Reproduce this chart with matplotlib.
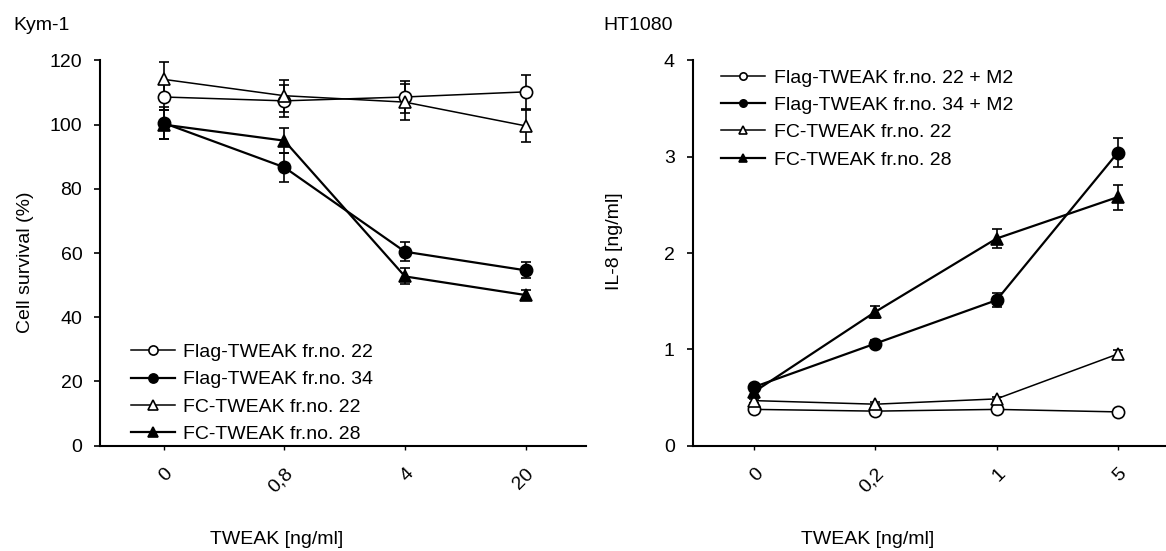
import numpy as np
import matplotlib
matplotlib.use("Agg")
import matplotlib.pyplot as plt

plt.rcParams['font.family'] = ['Liberation Sans', 'DejaVu Sans']

# Kym-1 cell survival
kym_doses = ["0", "0,8", "4", "20"]
kym_labels = ["Flag-TWEAK fr.no. 22", "Flag-TWEAK fr.no. 34",
              "FC-TWEAK fr.no. 22", "FC-TWEAK fr.no. 28"]
kym_flag22 = [108.6, 107.4, 108.6, 110.2]
kym_flag22_err = [4.0, 5.0, 5.0, 5.4]
kym_flag34 = [100.5, 86.7, 60.4, 54.6]
kym_flag34_err = [5.0, 4.5, 3.0, 2.5]
kym_fc22 = [114.1, 109.0, 107.0, 99.6]
kym_fc22_err = [5.4, 5.0, 5.5, 5.0]
kym_fc28 = [100.0, 95.0, 52.7, 46.9]
kym_fc28_err = [4.5, 4.0, 2.5, 1.5]

# HT1080 IL-8 release
ht_doses = ["0", "0,2", "1", "5"]
ht_labels = ["Flag-TWEAK fr.no. 22 + M2", "Flag-TWEAK fr.no. 34 + M2",
             "FC-TWEAK fr.no. 22", "FC-TWEAK fr.no. 28"]
ht_flag22 = [0.376, 0.358, 0.376, 0.35]
ht_flag22_err = [0.02, 0.02, 0.02, 0.02]
ht_flag34 = [0.61, 1.06, 1.51, 3.04]
ht_flag34_err = [0.03, 0.04, 0.07, 0.15]
ht_fc22 = [0.467, 0.43, 0.485, 0.95]
ht_fc22_err = [0.02, 0.02, 0.02, 0.04]
ht_fc28 = [0.56, 1.39, 2.15, 2.58]
ht_fc28_err = [0.03, 0.06, 0.10, 0.13]

styles = [
    dict(marker='o', mfc='white', lw=1.1),
    dict(marker='o', mfc='black', lw=1.6),
    dict(marker='^', mfc='white', lw=1.1),
    dict(marker='^', mfc='black', lw=1.6),
]

W, H = 1166, 551
fig = plt.figure(figsize=(W / 100, H / 100), dpi=100)
ax1 = fig.add_axes([100.4 / W, 1 - 445.6 / H, (586 - 100.4) / W, 385.2 / H])
ax2 = fig.add_axes([692.7 / W, 1 - 445.6 / H, (1166 - 692.7) / W, 385.2 / H])

FS = 14


def draw(ax, doses, series, errs, labels, ymax, yticks, leg_loc, leg_anchor, legscale):
    x = np.arange(len(doses))
    for vals, err, lab, st in zip(series, errs, labels, styles):
        ax.errorbar(x, vals, yerr=err, color='black', mec='black', mew=1.2,
                    ms=8.8, capsize=3.4, elinewidth=1.2, capthick=1.2,
                    label=lab, **st)
    ax.set_ylim(0, ymax)
    ax.set_yticks(yticks)
    ax.set_xticks(x)
    ax.set_xticklabels(doses, rotation=45, ha='right', va='top',
                       rotation_mode='anchor')
    for s in ['top', 'right']:
        ax.spines[s].set_visible(False)
    for s in ['left', 'bottom']:
        ax.spines[s].set_linewidth(1.5)
    ax.tick_params(axis='y', direction='out', length=4, width=1.2,
                   labelsize=FS, pad=9)
    ax.tick_params(axis='x', direction='out', length=3, width=1.0,
                   labelsize=FS, pad=11)
    handles, labs = ax.get_legend_handles_labels()
    handles = [h[0] for h in handles]
    ax.legend(handles, labs, loc=leg_loc, bbox_to_anchor=leg_anchor,
              frameon=False, fontsize=FS, markerscale=legscale,
              handlelength=2.26, handletextpad=0.43, labelspacing=0.5,
              borderaxespad=0, borderpad=0)


draw(ax1, kym_doses, [kym_flag22, kym_flag34, kym_fc22, kym_fc28],
     [kym_flag22_err, kym_flag34_err, kym_fc22_err, kym_fc28_err],
     kym_labels, 120, [0, 20, 40, 60, 80, 100, 120],
     'lower left', ((131 - 100.4) / 485.6, (445.6 - 443) / 385.2), 0.75)
ax1.set_xlim(-0.524, 3.5)

draw(ax2, ht_doses, [ht_flag22, ht_flag34, ht_fc22, ht_fc28],
     [ht_flag22_err, ht_flag34_err, ht_fc22_err, ht_fc28_err],
     ht_labels, 4, [0, 1, 2, 3, 4],
     'upper left', ((721.3 - 692.7) / 473.3, (445.6 - 69) / 385.2), 0.6)
ax2.set_xlim(-0.51, 3.4)

fig.text(13.8 / W, 1 - 26 / H, "Kym-1", fontsize=FS, va='center', ha='left')
fig.text(603.4 / W, 1 - 26 / H, "HT1080", fontsize=FS, va='center', ha='left')
fig.text(26 / W, 1 - 262.7 / H, "Cell survival (%)", fontsize=FS,
         rotation=90, va='center', ha='center')
fig.text(614.6 / W, 1 - 241.6 / H, "IL-8 [ng/ml]", fontsize=FS,
         rotation=90, va='center', ha='center')
fig.text(277 / W, 1 - 539 / H, "TWEAK [ng/ml]", fontsize=FS,
         va='center', ha='center')
fig.text(868 / W, 1 - 539 / H, "TWEAK [ng/ml]", fontsize=FS,
         va='center', ha='center')

fig.savefig("out.png", dpi=100)
